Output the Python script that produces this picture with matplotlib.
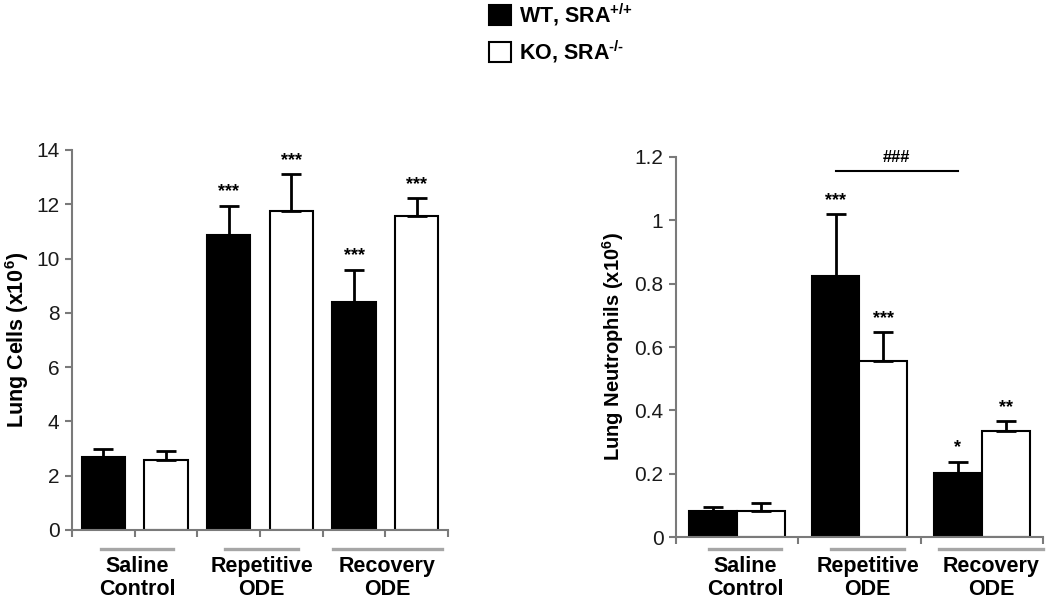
import matplotlib
matplotlib.use("Agg")
import matplotlib.pyplot as plt
import matplotlib.transforms as mtransforms
import numpy as np
from matplotlib.patches import Patch

plt.rcParams['font.family'] = ['Liberation Sans', 'DejaVu Sans']
plt.rcParams['mathtext.fontset'] = 'custom'
plt.rcParams['mathtext.rm'] = 'Liberation Sans:bold'
plt.rcParams['mathtext.bf'] = 'Liberation Sans:bold'

groups = ["Saline\nControl", "Repetitive\nODE", "Recovery\nODE"]
series = ["WT, SRA$^{\\text{+/+}}$", "KO, SRA$^{\\text{-/-}}$"]

# Lung cells (x10^6)
cells_wt = [2.70, 10.85, 8.40]
cells_wt_err = [0.27, 1.10, 1.18]
cells_ko = [2.58, 11.75, 11.55]
cells_ko_err = [0.33, 1.35, 0.68]
cells_wt_sig = ["", "***", "***"]
cells_ko_sig = ["", "***", "***"]

# Lung neutrophils (x10^6)
neut_wt = [0.082, 0.824, 0.202]
neut_wt_err = [0.012, 0.195, 0.035]
neut_ko = [0.082, 0.556, 0.335]
neut_ko_err = [0.025, 0.090, 0.030]
neut_wt_sig = ["", "***", "*"]
neut_ko_sig = ["", "***", "**"]

fig = plt.figure(figsize=(10.5, 5.99), dpi=100)
axL = fig.add_axes([0.0686, 0.1152, 0.3581, 0.6344])
axR = fig.add_axes([0.6438, 0.1035, 0.3495, 0.6344])

axis_color = "#7a7a7a"
ekw = dict(elinewidth=2.0, capthick=2.0, ecolor="black")
TICK_FS = 15
STAR_FS = 13

def style(ax, ymax, ystep, nx, fmt):
    ax.set_ylim(0, ymax)
    ax.set_xlim(0, nx)
    yt = np.arange(0, ymax + ystep / 2, ystep)
    ax.set_yticks(yt)
    ax.set_yticklabels([fmt(v) for v in yt], fontsize=TICK_FS, color="#1a1a1a")
    ax.set_xticks(np.arange(0, nx + 1))
    ax.set_xticklabels([])
    for s in ["top", "right"]:
        ax.spines[s].set_visible(False)
    for s in ["left", "bottom"]:
        ax.spines[s].set_color(axis_color)
        ax.spines[s].set_linewidth(1.5)
    ax.tick_params(axis="both", direction="out", color=axis_color, width=1.5, length=5)
    ax.tick_params(axis="y", pad=4)

# Left chart: six slots, one bar each
xl_wt = np.arange(3) * 2 + 0.5
xl_ko = np.arange(3) * 2 + 1.5
bw = 0.69
axL.bar(xl_wt, cells_wt, bw, color="black", edgecolor="black", linewidth=1.5,
        yerr=[np.zeros(3), cells_wt_err], capsize=7, error_kw=ekw)
axL.bar(xl_ko, cells_ko, bw, color="white", edgecolor="black", linewidth=1.5,
        yerr=[np.zeros(3), cells_ko_err], capsize=7, error_kw=ekw)
style(axL, 14, 2, 6, lambda v: f"{v:g}")
for xs, vals, errs, sigs in [(xl_wt, cells_wt, cells_wt_err, cells_wt_sig),
                             (xl_ko, cells_ko, cells_ko_err, cells_ko_sig)]:
    for x, v, e, s in zip(xs, vals, errs, sigs):
        axL.text(x, v + e + 0.2, s, ha="center", va="bottom", fontsize=STAR_FS, fontweight="bold")
axL.set_ylabel("Lung Cells (x10$^{6}$)", fontsize=15.5, fontweight="bold", labelpad=4)

# Right chart: three clustered groups
xr = np.arange(3)
bw2 = 0.39
xr_wt = xr + 0.5 - bw2 / 2
xr_ko = xr + 0.5 + bw2 / 2
axR.bar(xr_wt, neut_wt, bw2, color="black", edgecolor="black", linewidth=1.5,
        yerr=[np.zeros(3), neut_wt_err], capsize=7, error_kw=ekw)
axR.bar(xr_ko, neut_ko, bw2, color="white", edgecolor="black", linewidth=1.5,
        yerr=[np.zeros(3), neut_ko_err], capsize=7, error_kw=ekw)
style(axR, 1.2, 0.2, 3, lambda v: "0" if v == 0 else f"{v:.1f}".rstrip("0").rstrip("."))
for xs, vals, errs, sigs in [(xr_wt, neut_wt, neut_wt_err, neut_wt_sig),
                             (xr_ko, neut_ko, neut_ko_err, neut_ko_sig)]:
    for x, v, e, s in zip(xs, vals, errs, sigs):
        axR.text(x, v + e + 0.018, s, ha="center", va="bottom", fontsize=STAR_FS, fontweight="bold")
# ### comparison line between repetitive WT and recovery WT
x_a, x_b = xr_wt[1], xr_wt[2]
axR.plot([x_a, x_b], [1.155, 1.155], color="black", lw=1.5, clip_on=False)
axR.text((x_a + x_b) / 2, 1.175, "###", ha="center", va="bottom", fontsize=STAR_FS - 1, fontweight="bold")
axR.set_ylabel("Lung Neutrophils (x10$^{6}$)", fontsize=14.5, fontweight="bold", labelpad=6)

# Category labels with grey lines above
def cat_labels(ax, centers, halfwidths):
    trans = mtransforms.blended_transform_factory(ax.transData, fig.transFigure)
    for c, hw, g in zip(centers, halfwidths, groups):
        ax.plot([c - hw, c + hw], [0.0835, 0.0835], color="#a6a6a6", lw=2.4,
                transform=trans, clip_on=False)
        ax.text(c, 0.071, g, transform=trans, ha="center", va="top",
                fontsize=15.5, fontweight="bold", linespacing=1.08)

cat_labels(axL, [1.037, 3.024, 5.034], [0.575, 0.58, 0.87])
cat_labels(axR, [0.564, 1.566, 2.576], [0.294, 0.297, 0.425])

fig.legend(handles=[Patch(facecolor="black", edgecolor="black", linewidth=1.5),
                    Patch(facecolor="white", edgecolor="black", linewidth=1.5)],
           labels=series, loc="upper left", bbox_to_anchor=(0.4655, 0.998),
           frameon=False, prop={"weight": "bold", "size": 15.5},
           borderpad=0, borderaxespad=0,
           handlelength=1.05, handleheight=1.05, handletextpad=0.35, labelspacing=0.5)

fig.savefig("out.png", dpi=100)
